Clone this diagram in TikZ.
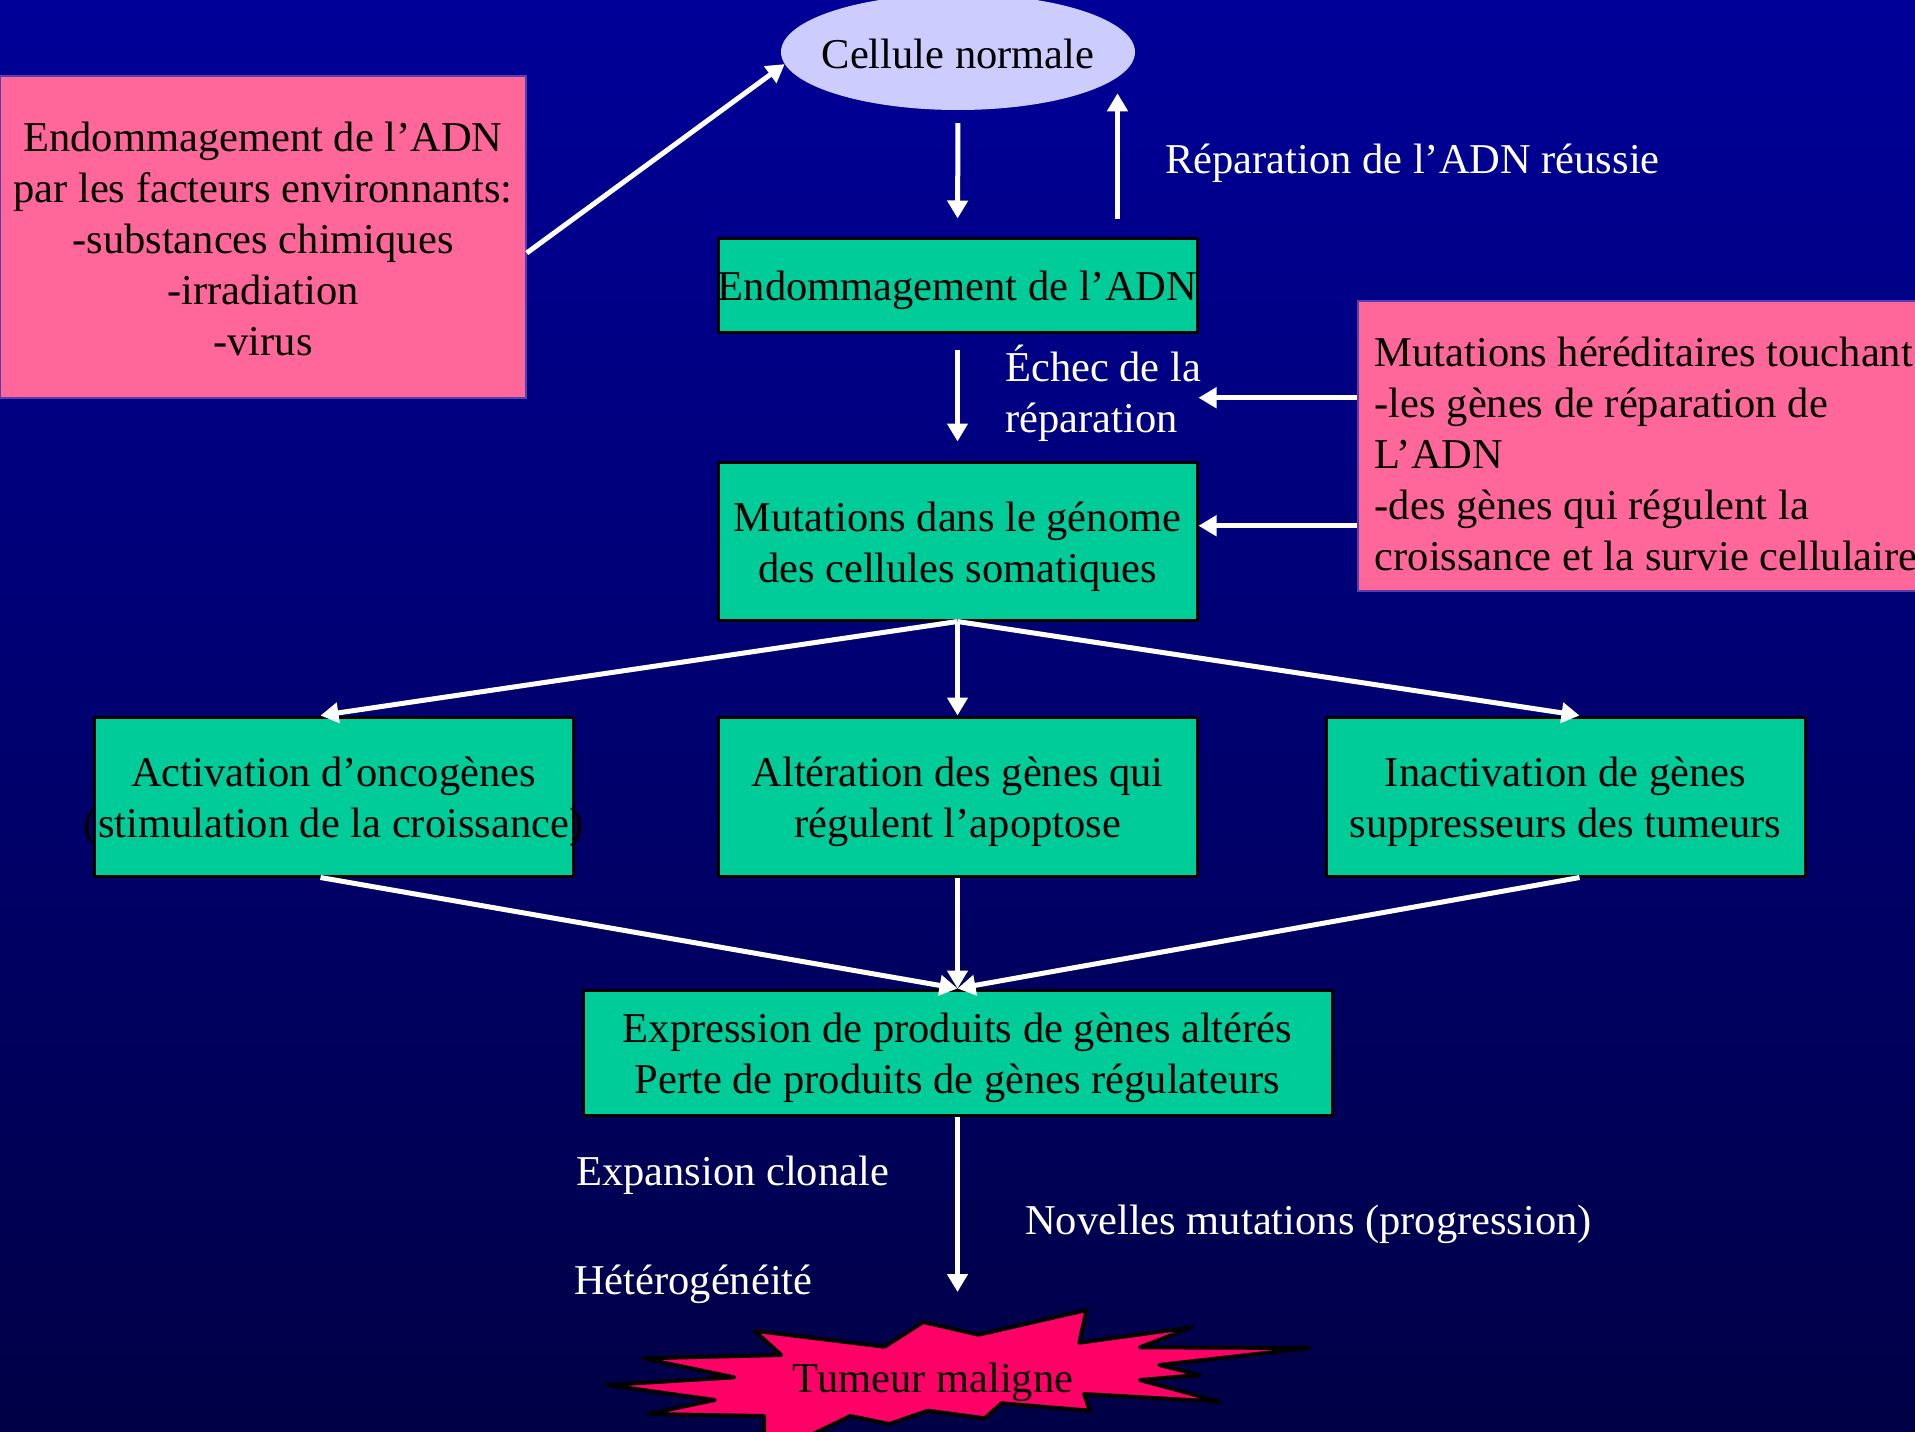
\documentclass[tikz,border=0pt]{standalone}
\usepackage{fontspec}
\setmainfont{Liberation Serif}
\usetikzlibrary{arrows.meta,shapes.geometric,calc}
\definecolor{bgtop}{RGB}{0,0,153}
\definecolor{bgbot}{RGB}{0,0,70}
\definecolor{boxgreen}{RGB}{0,204,153}
\definecolor{boxpink}{RGB}{255,102,153}
\definecolor{pinkedge}{RGB}{90,60,170}
\definecolor{cellfill}{RGB}{204,204,255}
\definecolor{burst}{RGB}{255,0,102}
\newcommand{\tpad}[1]{\rule{0pt}{#1}}
\tikzset{
  greenbox/.style={draw=black, line width=3pt, fill=boxgreen, inner sep=0pt, align=center, text=black},
  pinkbox/.style={draw=pinkedge, line width=1.5pt, fill=boxpink, text=black},
  lbl/.style={text=white, inner sep=0pt, anchor=west},
  arr/.style={draw=white, line width=5pt, -{Triangle[width=20pt,length=18pt]}},
}
\begin{document}
\begin{tikzpicture}[x=1pt, y=-1pt, font=\fontsize{42.5}{51}\selectfont]
\useasboundingbox (0,0) rectangle (1915,1432);
\begin{scope}
\clip (0,0) rectangle (1915,1432);
\shade[top color=bgtop, bottom color=bgbot] (0,0) rectangle (1915,1432);

% nodes
\node[ellipse, fill=cellfill, minimum width=354pt, minimum height=116pt, inner sep=0pt, text=black] (cell) at (958,52) {\tpad{34pt}\makebox[0pt]{Cellule normale}};

\node[pinkbox, minimum width=526pt, minimum height=322pt, align=center, inner sep=0pt] (env) at (263,237)
  {\tpad{34pt}Endommagement de l’ADN\\par les facteurs environnants:\\-substances chimiques\\-irradiation\\-virus};

\node[pinkbox, anchor=north west, minimum height=290pt, inner xsep=17pt, inner ysep=0pt, align=left] (hered) at (1357,300)
  {\tpad{46pt}Mutations héréditaires touchant\\-les gènes de réparation de\\L’ADN\\-des gènes qui régulent la\\croissance et la survie cellulaire};

\node[greenbox, minimum width=479pt, minimum height=94pt] (endo) at (957.5,285) {\tpad{41pt}\makebox[0pt]{Endommagement de l’ADN}};
\node[greenbox, minimum width=479pt, minimum height=158pt] (mut) at (957.5,541) {\tpad{41pt}Mutations dans le génome\\des cellules somatiques};

\node[greenbox, minimum width=479pt, minimum height=159pt] (act) at (333.5,796.5) {\tpad{41pt}Activation d’oncogènes\\\makebox[0pt]{(stimulation de la croissance)}};
\node[greenbox, minimum width=479pt, minimum height=159pt] (alt) at (957.5,796.5) {\tpad{41pt}Altération des gènes qui\\régulent l’apoptose};
\node[greenbox, minimum width=479pt, minimum height=159pt] (inact) at (1565.5,796.5) {\tpad{41pt}Inactivation de gènes\\suppresseurs des tumeurs};

\node[greenbox, minimum width=749pt, minimum height=125pt] (expr) at (957.5,1052.5) {\tpad{41pt}Expression de produits de gènes altérés\\Perte de produits de gènes régulateurs};

% labels
\node[lbl] (rep) at (1165,163) {Réparation de l’ADN réussie};
\node[lbl, align=left] (echec) at (1005,393) {Échec de la\\réparation};
\node[lbl] (expan) at (576,1175) {Expansion clonale};
\node[lbl] (novel) at (1025,1224) {Novelles mutations (progression)};
\node[lbl] (hetero) at (574,1284) {Hétérogénéité};

% starburst
\filldraw[fill=burst, draw=black, line width=4pt, line join=round]
  (754.5,1330.7) -- (884.4,1346.7) -- (923.2,1322) -- (978.5,1334.7) -- (1086.5,1310)
  -- (1079.3,1342.7) -- (1191.7,1327.3) -- (1139.9,1347.3) -- (1309.5,1348) -- (1159.3,1365)
  -- (1199.5,1375) -- (1139.9,1380) -- (1219.9,1401.7) -- (1084,1394) -- (1090,1410.7)
  -- (1001.7,1403.3) -- (984.8,1418.3) -- (928,1410.7) -- (889.3,1424) -- (850.5,1416)
  -- (790,1445) -- (764,1445) -- (764.2,1416) -- (647.9,1414) -- (714.8,1400)
  -- (606.7,1385) -- (734.1,1377.3) -- (643,1358.3) -- (781.2,1355) -- cycle;
\node[text=black, inner sep=0pt] (tum) at (933,1382) {Tumeur maligne};
\coordinate (tumtop) at (957.5,1292);

% connectors
\draw[arr] ([yshift=-16pt]env.east) -- (cell.184);
\draw[arr, shorten <=13pt, shorten >=18pt] (cell.south) -- (endo.north);
\draw[arr, shorten <=18pt, shorten >=16pt] ([xshift=160pt]endo.north) -- ([xshift=160pt]endo.north |- cell.-9);
\draw[arr, shorten <=16pt, shorten >=19pt] (endo.south) -- (mut.north);
\draw[arr] ([yshift=48pt]hered.west) coordinate (h1) -- (mut.east |- h1);
\draw[arr] ([yshift=-80pt]hered.west) coordinate (h2) -- (mut.east |- h2);

\draw[arr] (mut.south) -- ([xshift=-13pt]act.north);
\draw[arr] (mut.south) -- (alt.north);
\draw[arr] (mut.south) -- ([xshift=14pt]inact.north);

\draw[arr] ([xshift=-13pt]act.south) -- (expr.north);
\draw[arr] (alt.south) -- (expr.north);
\draw[arr] ([xshift=14pt]inact.south) -- (expr.north);

\draw[arr] (expr.south) -- (tumtop);
\end{scope}
\end{tikzpicture}
\end{document}
